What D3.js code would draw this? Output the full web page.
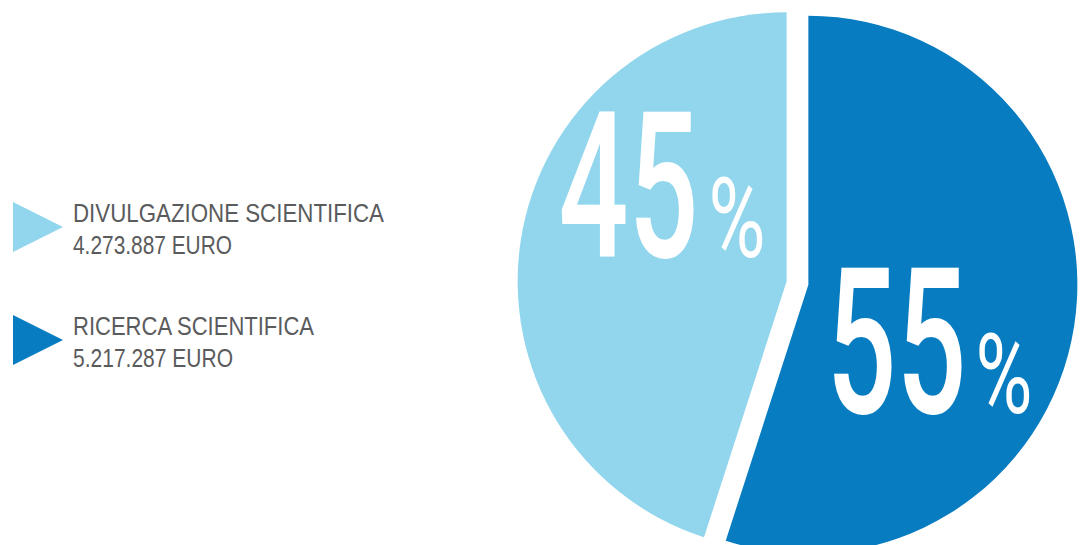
<!DOCTYPE html>
<html>
<head>
<meta charset="utf-8">
<script src="https://cdn.jsdelivr.net/npm/d3@7"></script>
<style>
  html, body { margin: 0; padding: 0; background: #fff; }
  svg { display: block; }
</style>
</head>
<body>
<div id="chart"></div>
<script>
// data
var categories = ["RICERCA SCIENTIFICA", "DIVULGAZIONE SCIENTIFICA"];
var amounts = [5217287, 4273887];
var amountLabels = ["5.217.287 EURO", "4.273.887 EURO"];
var colors = ["#077cc1", "#92d6ed"];
// legend order (top to bottom)
var legendOrder = [1, 0];

var width = 1083, height = 545;
var cx = 797.5, cy = 283, radius = 269, explode = 11;

var svg = d3.select("#chart").append("svg")
    .attr("width", width)
    .attr("height", height);

var total = d3.sum(amounts);

var pie = d3.pie().sort(null).value(function(d) { return d; });
var arc = d3.arc().innerRadius(0).outerRadius(radius);
var arcs = pie(amounts);

var g = svg.append("g")
    .attr("transform", "translate(" + cx + "," + cy + ")");

// slices, each pushed out along its bisector
g.selectAll("path.slice")
    .data(arcs)
  .enter().append("path")
    .attr("class", "slice")
    .attr("fill", function(d, i) { return colors[i]; })
    .attr("d", arc)
    .attr("transform", function(d) {
      var a = (d.startAngle + d.endAngle) / 2;
      return "translate(" + (Math.sin(a) * explode) + "," + (-Math.cos(a) * explode) + ")";
    });

// squeeze a text horizontally so it is w pixels wide
function condensed(parent, x, y, size, weight, w, str) {
  var t = parent.append("text")
      .attr("fill", "#fff")
      .attr("font-family", "Roboto, Liberation Sans, sans-serif")
      .attr("font-weight", weight)
      .attr("font-size", size)
      .text(str);
  var sx = w / t.node().getComputedTextLength();
  t.attr("transform", "translate(" + x + "," + y + ") scale(" + sx + ",1)");
  return t;
}

// big percentage labels (offsets relative to pie centre)
var labelPos = [
  {num: [29, 130], pct: [178, 130]},
  {num: [-239, -26], pct: [-89, -26]}
];

arcs.forEach(function(d, i) {
  var p = Math.round(d.value / total * 100);
  condensed(g, labelPos[i].num[0], labelPos[i].num[1], 204, 500, 140, String(p));
  condensed(g, labelPos[i].pct[0], labelPos[i].pct[1], 111, 400, 57, "%");
});

// legend
var legend = svg.append("g").attr("transform", "translate(13,202)");
var item = legend.selectAll("g.item")
    .data(legendOrder)
  .enter().append("g")
    .attr("class", "item")
    .attr("transform", function(d, i) { return "translate(0," + (i * 113) + ")"; });

item.append("path")
    .attr("d", "M0,0L50,25L0,50Z")
    .attr("fill", function(d) { return colors[d]; });

var textWidths = {0: [241, 160], 1: [311, 159]};

item.append("text")
    .attr("x", 60)
    .attr("y", 20)
    .attr("fill", "#5a5b5d")
    .attr("font-family", "Liberation Sans, Arial, sans-serif")
    .attr("font-size", 26)
    .attr("textLength", function(d) { return textWidths[d][0]; })
    .attr("lengthAdjust", "spacingAndGlyphs")
    .text(function(d) { return categories[d]; });

item.append("text")
    .attr("x", 60)
    .attr("y", 52)
    .attr("fill", "#5a5b5d")
    .attr("font-family", "Liberation Sans, Arial, sans-serif")
    .attr("font-size", 26)
    .attr("textLength", function(d) { return textWidths[d][1]; })
    .attr("lengthAdjust", "spacingAndGlyphs")
    .text(function(d) { return amountLabels[d]; });
</script>
</body>
</html>
